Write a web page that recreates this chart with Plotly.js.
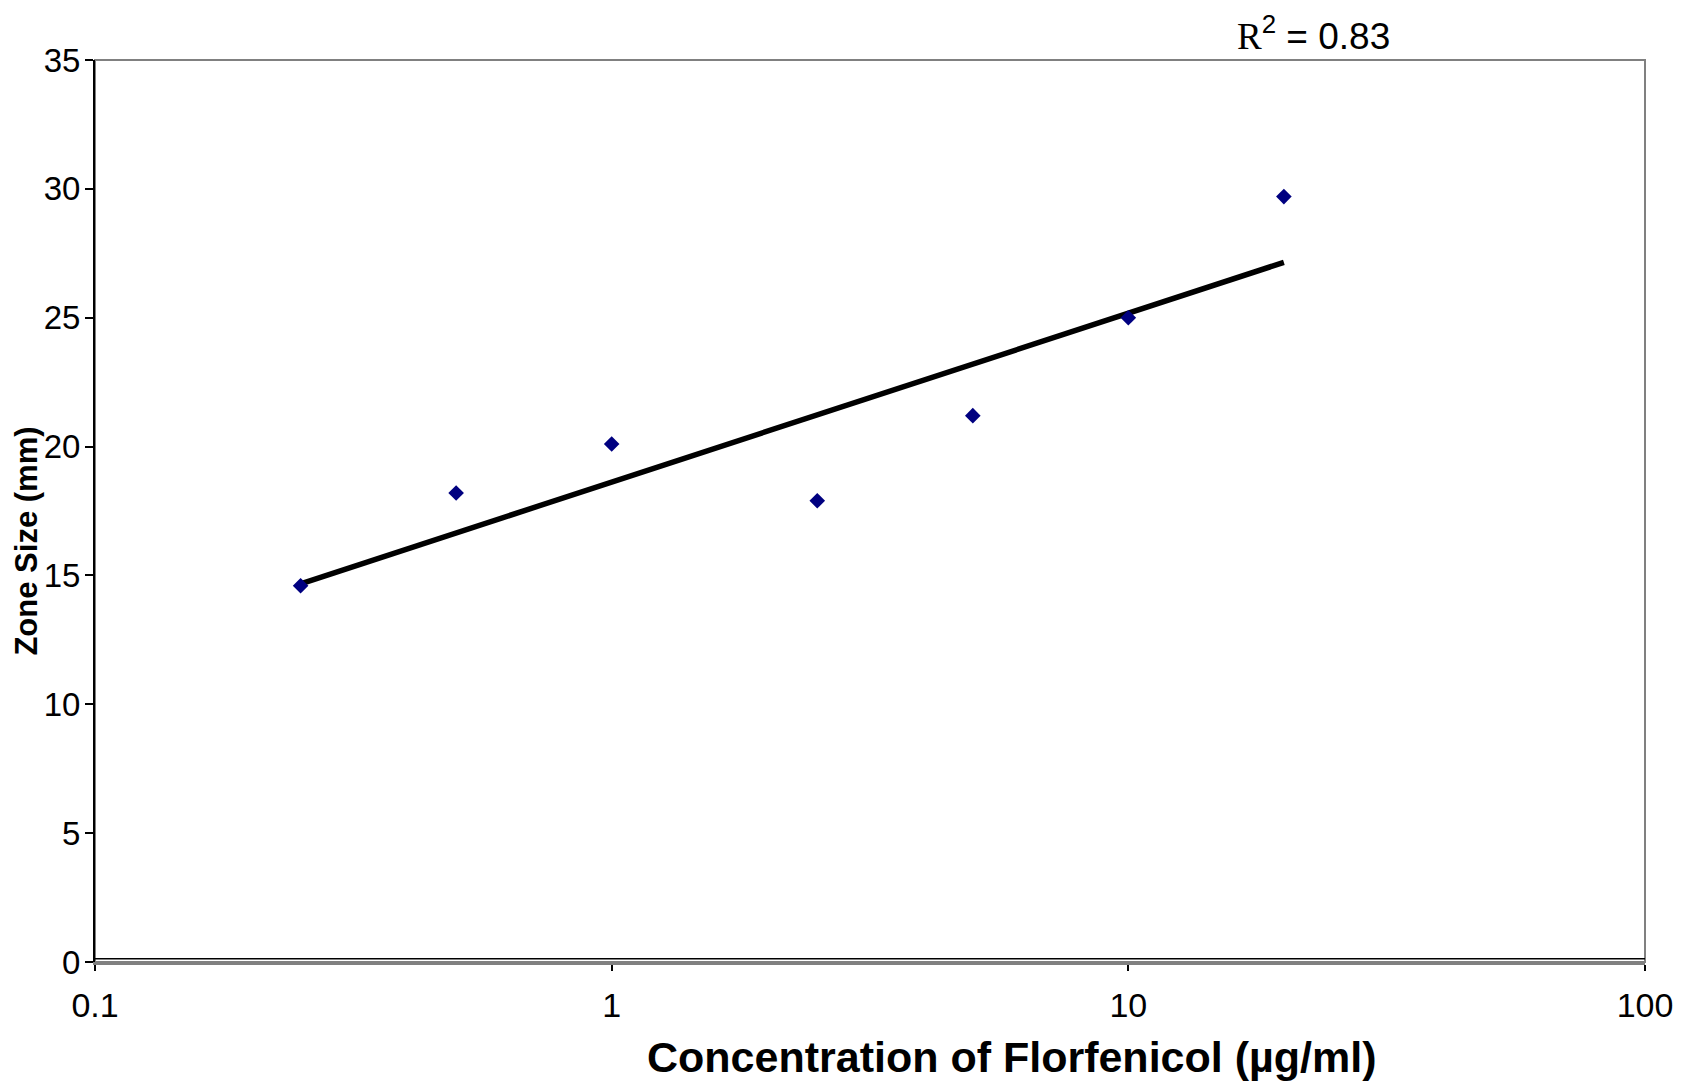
<!DOCTYPE html>
<html>
<head>
<meta charset="utf-8">
<script src="https://cdn.plot.ly/plotly-3.0.1.min.js"></script>
<style>html,body{margin:0;padding:0;background:#fff;}#chart{width:1686px;height:1082px;}</style>
</head>
<body>
<div id="chart"></div>
<script>
// Data
const concentration = [0.25, 0.5, 1, 2.5, 5, 10, 20];
const zoneSize = [14.6, 18.2, 20.1, 17.9, 21.2, 25.0, 29.7];
const xTickVals = [0.1, 1, 10, 100];
const xTickText = ['0.1', '1', '10', '100'];
const rSquaredLabel = 'R<sup>2</sup> = 0.83';

// Logarithmic trendline (least squares on log10 x)
const lx = concentration.map(v => Math.log10(v));
const n = lx.length;
const mx = lx.reduce((a, b) => a + b, 0) / n;
const my = zoneSize.reduce((a, b) => a + b, 0) / n;
let sxy = 0, sxx = 0;
for (let i = 0; i < n; i++) { sxy += (lx[i] - mx) * (zoneSize[i] - my); sxx += (lx[i] - mx) ** 2; }
const slope = sxy / sxx, icpt = my - slope * mx;
const trendX = [], trendY = [];
const lmin = Math.min(...lx), lmax = Math.max(...lx);
for (let k = 0; k <= 60; k++) {
  const l = lmin + (lmax - lmin) * k / 60;
  trendX.push(Math.pow(10, l));
  trendY.push(icpt + slope * l);
}

const traces = [
  { x: trendX, y: trendY, type: 'scatter', mode: 'lines',
    line: { color: '#000000', width: 5.5 }, hoverinfo: 'skip', showlegend: false },
  { x: concentration, y: zoneSize, type: 'scatter', mode: 'markers',
    marker: { symbol: 'diamond', size: 12, color: '#000080' }, showlegend: false }
];

const layout = {
  width: 1686, height: 1082,
  margin: { l: 95, r: 41, t: 60, b: 120 },
  paper_bgcolor: '#ffffff', plot_bgcolor: '#ffffff',
  font: { family: 'Liberation Sans, Arial, sans-serif', color: '#000000' },
  showlegend: false,
  xaxis: {
    type: 'log', range: [-1, 2],
    tickmode: 'array', tickvals: xTickVals, ticktext: xTickText,
    ticks: 'outside', ticklen: 6, tickwidth: 2, tickcolor: '#000000',
    showgrid: false, zeroline: false,
    showline: true, linecolor: '#808080', linewidth: 3,
    tickfont: { size: 34, family: 'Liberation Sans, Arial, sans-serif' },
    ticklabelstandoff: 5
  },
  yaxis: {
    range: [0, 35], dtick: 5, tick0: 0,
    ticks: 'outside', ticklen: 8, tickwidth: 2, tickcolor: '#000000',
    showgrid: false, zeroline: false,
    showline: true, linecolor: '#000000', linewidth: 2,
    tickfont: { size: 33, family: 'Liberation Sans, Arial, sans-serif' },
    ticklabelstandoff: -2
  },
  shapes: [
    { type: 'rect', xref: 'paper', yref: 'paper', x0: 0, x1: 1, y0: 0, y1: 1,
      line: { color: '#808080', width: 2 }, layer: 'below' },
    { type: 'line', xref: 'paper', yref: 'paper', x0: 0, x1: 1, y0: 0.0035, y1: 0.0035,
      line: { color: '#000000', width: 1.5 }, layer: 'above' }
  ],
  annotations: [
    { text: 'Concentration of Florfenicol (µg/ml)', xref: 'paper', yref: 'paper',
      x: 0.591, y: -0.105, xanchor: 'center', yanchor: 'middle', showarrow: false,
      font: { size: 43, family: 'Liberation Sans, Arial, sans-serif', weight: 'bold', color: '#000000' } },
    { text: '<b>Zone Size (mm)</b>', xref: 'paper', yref: 'paper',
      x: -0.044, y: 0.467, xanchor: 'center', yanchor: 'middle', showarrow: false,
      textangle: -90,
      font: { size: 31, family: 'Liberation Sans, Arial, sans-serif', color: '#000000' } },
    { text: '<span style="font-family:Liberation Serif, Times New Roman, serif">R</span>' + rSquaredLabel.slice(1),
      xref: 'paper', yref: 'paper', x: 0.786, y: 1.029, xanchor: 'center', yanchor: 'middle',
      showarrow: false, font: { size: 37, family: 'Liberation Sans, Arial, sans-serif', color: '#000000' } }
  ]
};

Plotly.newPlot('chart', traces, layout, { staticPlot: true, displayModeBar: false });
</script>
</body>
</html>
